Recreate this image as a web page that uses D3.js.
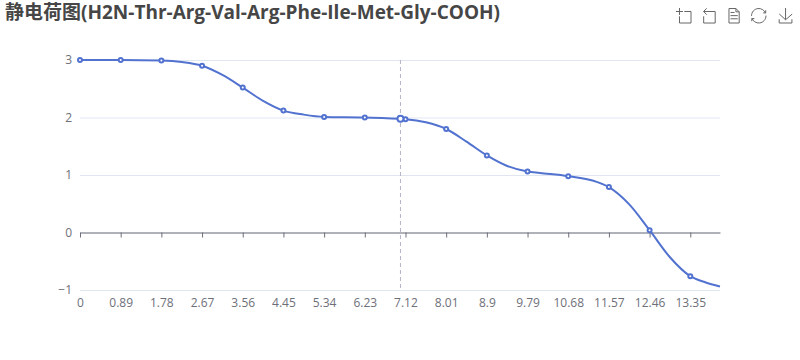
<!DOCTYPE html>
<html>
<head>
<meta charset="utf-8">
<script src="https://cdn.jsdelivr.net/npm/d3@7"></script>
<style>
  html, body { margin: 0; padding: 0; background: #fff; }
  svg { display: block; font-family: "Open Sans", "Noto Sans CJK SC", sans-serif; }
</style>
</head>
<body>
<div id="chart"></div>
<script>
const titleText = "静电荷图(H2N-Thr-Arg-Val-Arg-Phe-Ile-Met-Gly-COOH)"

// Values: the points that carry a marker
const phValues = [0, 0.89, 1.78, 2.67, 3.56, 4.45, 5.34, 6.23, 7.12, 8.01, 8.9, 9.79, 10.68, 11.57, 12.46, 13.35]
const chargeValues = [3, 3, 2.99, 2.9, 2.52, 2.12, 2.01, 2, 1.97, 1.8, 1.34, 1.06, 0.98, 0.79, 0.04, -0.76]
// Further readings of the curve between the markers
const curvePh = [2.225, 3.115, 4.005, 4.895, 7.565, 8.455, 9.345, 10.06, 11.25, 12.015, 12.905, 13.675, 14]
const curveCharge = [2.965, 2.74, 2.29, 2.05, 1.916, 1.58, 1.157, 1.035, 0.895, 0.49, -0.43, -0.866, -0.94]
const xTickValues = [0, 0.89, 1.78, 2.67, 3.56, 4.45, 5.34, 6.23, 7.12, 8.01, 8.9, 9.79, 10.68, 11.57, 12.46, 13.35]
const yTickValues = [-1, 0, 1, 2, 3]
const hoverPh = 7.01
const hoverCharge = 1.98

// Toolbox icons, drawn in a 58 unit box
const toolIcons = [
  { x: 676, path: "M0,13.5h26.9 M13.5,26.9V0 M32.1,13.5H58V58H13.5 V32.1" },
  { x: 701, path: "M22,1.4L9.9,13.5l12.3,12.3 M10.3,13.5H54.9v44.6 H10.3v-26" },
  { x: 726, path: "M17.5,17.3H33 M45.4,29.5h-28 M11.5,2v56H51V14.8L38.4,2H11.5z M38.4,2.2v12.7H51 M45.4,41.7h-28" },
  { x: 751, path: "M47,18.9h9.8V8.7 M56.3,20.1 C52.1,9,40.5,0.6,26.8,2.1C12.6,3.7,1.6,16.2,2.1,30.6 M13,41.1H3.1v10.2 M3.7,39.9c4.2,11.1,15.8,19.5,29.5,18 c14.2-1.6,25.2-14.1,24.7-28.5" },
  { x: 778, path: "M4.7,22.9L29.3,45.5L54.7,23.4M4.6,43.6L4.6,58L53.8,58L53.8,43.6M29.2,45.1L29.2,0" },
]

// Chart dimensions
const width = 800
const height = 360
const marginTop = 60
const marginRight = 80
const marginBottom = 70
const marginLeft = 80

// Colors
const lineColor = "#5272d0"
const gridColor = "#e0e6f1"
const axisColor = "#6e7079"
const titleColor = "#464646"
const crossColor = "#b4b4c8"
const fontFamily = '"Open Sans", "Noto Sans CJK SC", sans-serif'

const x = d3.scaleLinear().domain([0, 14]).range([marginLeft, width - marginRight])
const y = d3.scaleLinear().domain([-1, 3]).range([height - marginBottom, marginTop])

const svg = d3
  .select("#chart")
  .append("svg")
  .attr("width", width)
  .attr("height", height)
  .attr("viewBox", [0, 0, width, height])

svg
  .append("text")
  .attr("x", 5)
  .attr("y", 19)
  .style("fill", titleColor)
  .style("font-size", "19px")
  .style("font-weight", "bold")
  .text(titleText)

// Gridlines and y labels
svg
  .append("g")
  .attr("transform", `translate(${marginLeft},0)`)
  .call(
    d3
      .axisLeft(y)
      .tickValues(yTickValues)
      .tickFormat(d3.format("d"))
      .tickSize(-(width - marginLeft - marginRight))
      .tickPadding(8)
  )
  .call((g) => g.select(".domain").remove())
  .call((g) => g.selectAll(".tick line").attr("stroke", gridColor))
  .call((g) =>
    g
      .selectAll(".tick text")
      .style("fill", axisColor)
      .style("font-size", "12px")
      .style("font-family", fontFamily)
  )

// x axis sits on zero, its labels stay below the plot
svg
  .append("g")
  .attr("transform", `translate(0,${y(0)})`)
  .call(
    d3
      .axisBottom(x)
      .tickValues(xTickValues)
      .tickFormat((d) => String(d))
      .tickSize(5)
      .tickSizeOuter(0)
      .tickPadding(y(-1) - y(0) + 3)
  )
  .call((g) => g.select(".domain").attr("stroke", axisColor))
  .call((g) => g.selectAll(".tick line").attr("stroke", axisColor))
  .call((g) =>
    g
      .selectAll(".tick text")
      .style("fill", axisColor)
      .style("font-size", "12px")
      .style("font-family", fontFamily)
  )

// Crosshair
svg
  .append("line")
  .attr("x1", x(hoverPh))
  .attr("x2", x(hoverPh))
  .attr("y1", y(3))
  .attr("y2", y(-1))
  .attr("stroke", crossColor)
  .attr("stroke-dasharray", "4,3")

const markers = phValues.map((d, i) => ({ ph: d, charge: chargeValues[i] }))
const between = curvePh.map((d, i) => ({ ph: d, charge: curveCharge[i] }))
const points = markers.concat(between).sort((a, b) => a.ph - b.ph)

const line = d3
  .line()
  .x((d) => x(d.ph))
  .y((d) => y(d.charge))
  .curve(d3.curveMonotoneX)

svg
  .append("path")
  .datum(points)
  .attr("fill", "none")
  .attr("stroke", lineColor)
  .attr("stroke-width", 2)
  .attr("d", line)

svg
  .selectAll(".dot")
  .data(markers)
  .join("circle")
  .attr("class", "dot")
  .attr("cx", (d) => x(d.ph))
  .attr("cy", (d) => y(d.charge))
  .attr("r", 2)
  .attr("fill", "#fff")
  .attr("stroke", lineColor)
  .attr("stroke-width", 2)

// Hovered point
svg
  .append("circle")
  .attr("cx", x(hoverPh))
  .attr("cy", y(hoverCharge))
  .attr("r", 3)
  .attr("fill", "#fff")
  .attr("stroke", lineColor)
  .attr("stroke-width", 2)

// Toolbox
svg
  .selectAll(".tool")
  .data(toolIcons)
  .join("path")
  .attr("class", "tool")
  .attr("transform", (d) => `translate(${d.x},8) scale(${15 / 58})`)
  .attr("d", (d) => d.path)
  .attr("fill", "none")
  .attr("stroke", "#666")
  .attr("stroke-width", 1)
  .attr("vector-effect", "non-scaling-stroke")
</script>
</body>
</html>
